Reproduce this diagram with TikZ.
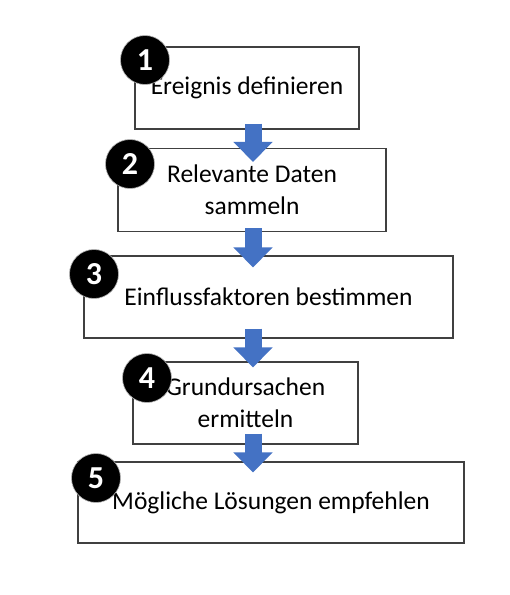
\documentclass[tikz,border=0pt]{standalone}
\usepackage{fontspec}
\setmainfont{Carlito}
\usepackage{tikz}
\usetikzlibrary{arrows.meta,calc}
\definecolor{flowblue}{HTML}{4472C4}
\definecolor{boxgray}{HTML}{404040}
\tikzstyle{stepbox}=[draw=boxgray, line width=1.1pt, fill=white, inner sep=0pt, align=center, font=\fontsize{25.5}{32}\selectfont]
\tikzstyle{badge}=[circle, fill=black, draw=gray!60, line width=0.6pt, minimum size=49pt, inner sep=0pt, text=white, font=\fontsize{32}{32}\selectfont\bfseries]
\tikzstyle{flow}=[draw=flowblue, line width=17pt, -{Triangle[width=38pt,length=20pt]}, flowblue]

\begin{document}
\begin{tikzpicture}[x=1pt,y=-1pt]
\useasboundingbox[fill=white] (0,0) rectangle (510,595);
\coordinate (ax) at (253,0);
% steps
\node[stepbox, minimum width=224pt, minimum height=82pt] (b1) at (247,88) {Ereignis definieren};
\node[stepbox, minimum width=268pt, minimum height=83pt] (b2) at (252,190) {Relevante Daten\\sammeln};
\node[stepbox, minimum width=369pt, minimum height=82pt] (b3) at (268.5,297) {Einflussfaktoren bestimmen};
\node[stepbox, minimum width=225pt, minimum height=82pt] (b4) at (245.5,403) {Grundursachen\\ermitteln};
\node[stepbox, minimum width=386pt, minimum height=81pt] (b5) at (271,502.5) {M\"ogliche L\"osungen empfehlen};
% arrows
\draw[flow] ([yshift=6pt]b1.south -| ax) -- ([yshift=-14pt]b2.north -| ax);
\draw[flow] ([yshift=4pt]b2.south -| ax) -- ([yshift=-12pt]b3.north -| ax);
\draw[flow] ([yshift=10pt]b3.south -| ax) -- ([yshift=-6pt]b4.north -| ax);
\draw[flow] ([yshift=11pt]b4.south -| ax) -- ([yshift=-11pt]b5.north -| ax);
% numbers
\node[badge] (n1) at (145,60) {1};
\node[badge] (n2) at (130,164) {2};
\node[badge] (n3) at (94,274) {3};
\node[badge] (n4) at (147,378) {4};
\node[badge] (n5) at (96,478) {5};
\end{tikzpicture}
\end{document}
